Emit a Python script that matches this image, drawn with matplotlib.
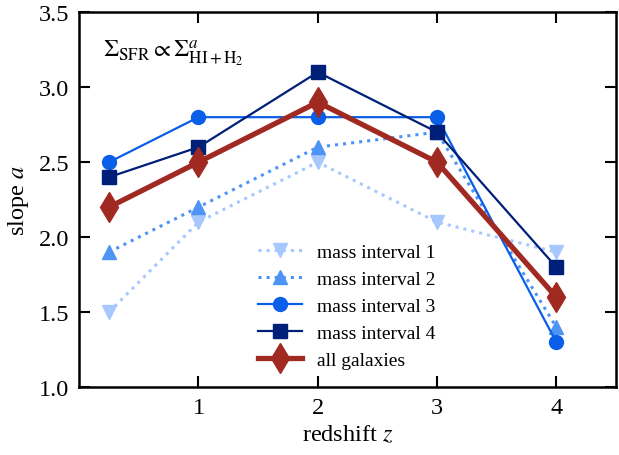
import matplotlib
matplotlib.use("Agg")
import matplotlib.pyplot as plt

z = [0.25, 1, 2, 3, 4]
m1 = [1.5, 2.1, 2.5, 2.1, 1.9]
m2 = [1.9, 2.2, 2.6, 2.7, 1.4]
m3 = [2.5, 2.8, 2.8, 2.8, 1.3]
m4 = [2.4, 2.6, 3.1, 2.7, 1.8]
allg = [2.2, 2.5, 2.9, 2.5, 1.6]
labels = ["mass interval 1", "mass interval 2", "mass interval 3", "mass interval 4", "all galaxies"]

plt.rcParams['font.family'] = ['Liberation Serif', 'DejaVu Serif']
plt.rcParams['mathtext.fontset'] = 'stix'

fig = plt.figure(figsize=(6.19, 4.56), dpi=100)
ax = fig.add_axes([0.128, 0.149, 0.867, 0.822])

ax.plot(z, m1, ls=':', lw=2.2, color='#a6c8ff', marker='v', ms=10, label=labels[0])
ax.plot(z, m2, ls=':', lw=2.2, color='#4d94f5', marker='^', ms=10, label=labels[1])
ax.plot(z, m3, ls='-', lw=1.6, color='#0a5ee8', marker='o', ms=10, label=labels[2])
ax.plot(z, m4, ls='-', lw=1.6, color='#001f78', marker='s', ms=10, label=labels[3])
ax.plot(z, allg, ls='-', lw=3.8, color='#a02a22', marker='d', ms=15, label=labels[4])

ax.set_xlim(0, 4.5)
ax.set_ylim(1.0, 3.5)
ax.set_xticks([1, 2, 3, 4])
ax.set_yticks([1.0, 1.5, 2.0, 2.5, 3.0, 3.5])
ax.tick_params(direction='in', top=True, right=True, length=8, width=1.5, labelsize=17.5, pad=7)
for s in ax.spines.values():
    s.set_linewidth(1.8)

ax.set_xlabel(r'redshift $z$', fontsize=17.5, labelpad=4)
ax.set_ylabel(r'slope $a$', fontsize=17.5, labelpad=6)
ax.text(0.045, 0.93, r'$\Sigma_{\rm SFR} \propto \Sigma^{a}_{\rm HI+H_2}$', transform=ax.transAxes,
        fontsize=17.5, va='top', ha='left')

ax.legend(loc='upper left', bbox_to_anchor=(0.404, 0.481), bbox_transform=fig.transFigure,
          borderaxespad=0, frameon=False, fontsize=14,
          handlelength=2.27, labelspacing=0.48, handletextpad=0.77)

fig.savefig('out.png', dpi=100)
